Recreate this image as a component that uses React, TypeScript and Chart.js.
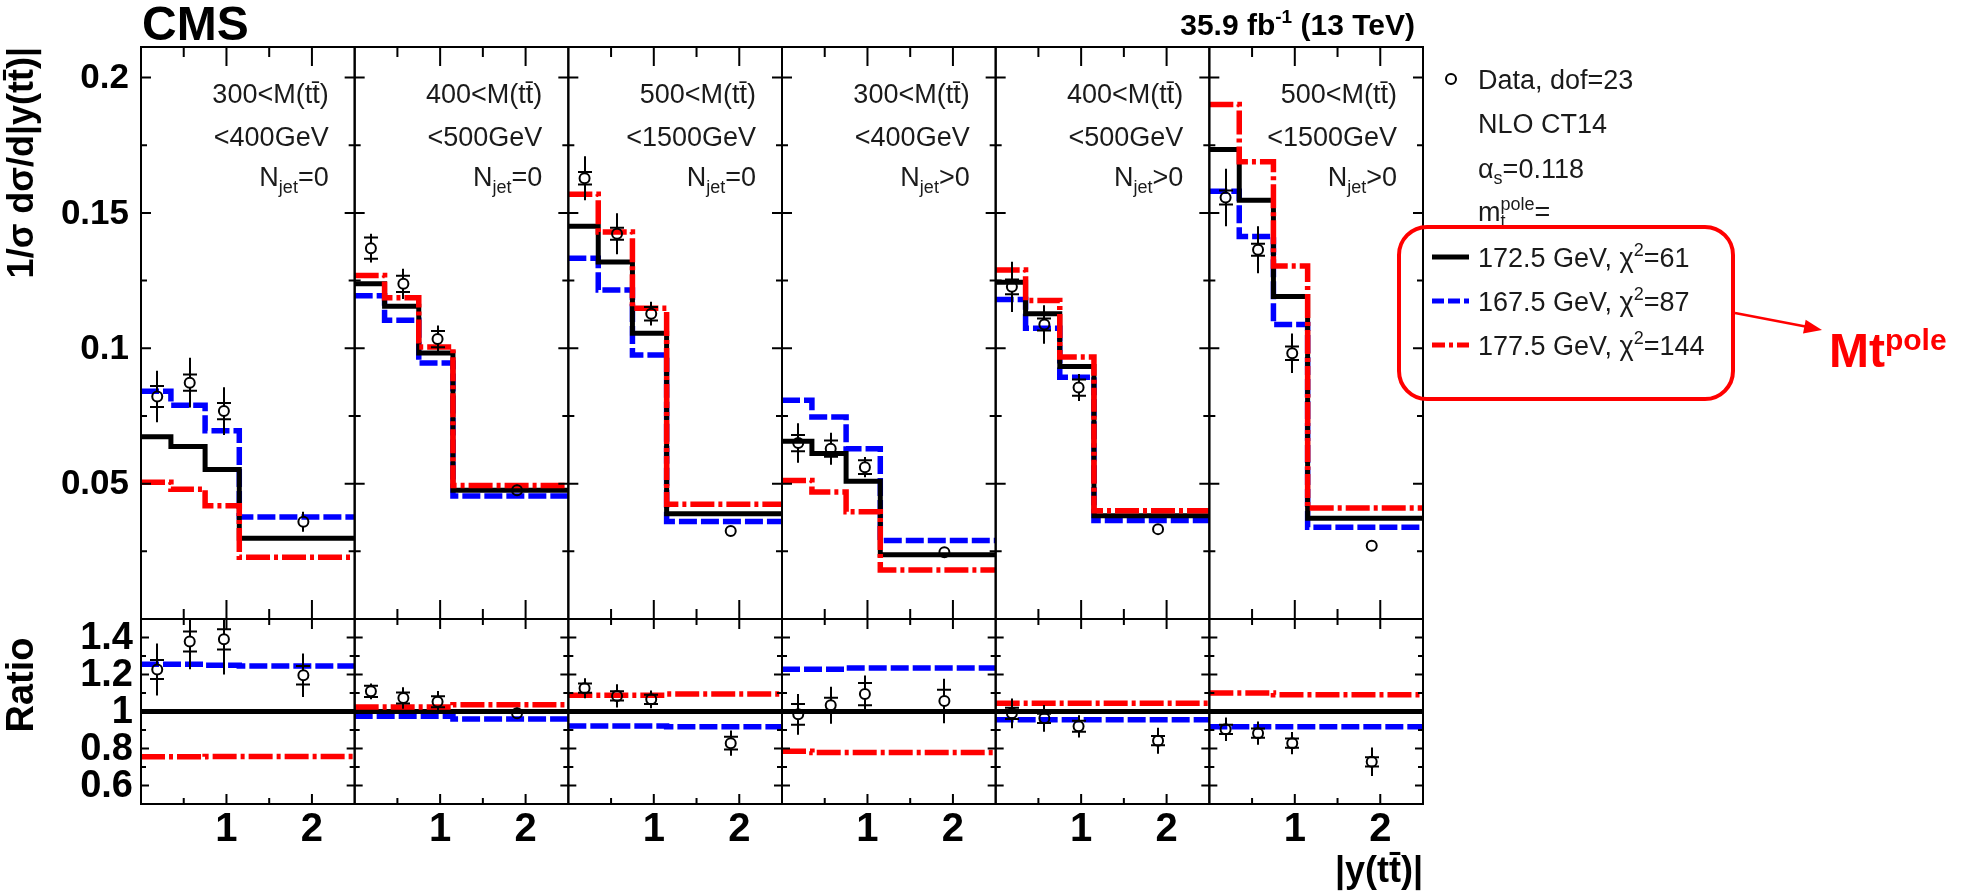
import React, { useEffect, useRef } from "react";
import { Chart, registerables } from "chart.js";

Chart.register(...registerables);

// ---------------- data ----------------
const binEdges = [0, 0.35, 0.75, 1.15, 2.5];
const dataX = [0.19, 0.57, 0.97, 1.9];
const panelSpan = 2.5;

const massLow = ["300", "400", "500", "300", "400", "500"];
const massHigh = ["400", "500", "1500", "400", "500", "1500"];
const njetSign = ["=0", "=0", "=0", ">0", ">0", ">0"];

// 1/sigma dsigma/d|y(tt)| predictions, per panel, per |y| bin
const mt1725Main = [
  [0.0673, 0.0637, 0.0552, 0.0298],
  [0.1238, 0.1155, 0.0983, 0.0476],
  [0.1451, 0.1319, 0.1056, 0.0389],
  [0.0657, 0.0611, 0.0509, 0.0237],
  [0.1244, 0.1128, 0.0933, 0.0381],
  [0.1734, 0.1547, 0.1191, 0.0372],
];
const mt1675Main = [
  [0.0841, 0.079, 0.0695, 0.0377],
  [0.1194, 0.1104, 0.0946, 0.0454],
  [0.1333, 0.1215, 0.0975, 0.036],
  [0.0808, 0.0746, 0.0629, 0.029],
  [0.118, 0.1074, 0.0893, 0.0364],
  [0.158, 0.1413, 0.1088, 0.0339],
];
const mt1775Main = [
  [0.0505, 0.0479, 0.0418, 0.0228],
  [0.1269, 0.1187, 0.1005, 0.0493],
  [0.1569, 0.143, 0.1148, 0.0424],
  [0.0512, 0.0469, 0.0396, 0.0181],
  [0.1289, 0.1177, 0.0968, 0.04],
  [0.1901, 0.1689, 0.1304, 0.041],
];
const dataMain = [
  [0.0822, 0.0873, 0.0768, 0.0359],
  [0.137, 0.1238, 0.1034, 0.0476],
  [0.1628, 0.1423, 0.1128, 0.0325],
  [0.065, 0.0629, 0.0561, 0.0247],
  [0.1227, 0.1088, 0.0855, 0.0332],
  [0.1557, 0.1364, 0.0982, 0.0271],
];
const dataMainTot = [
  [0.0095, 0.0092, 0.0088, 0.0037],
  [0.0053, 0.0056, 0.005, 0.002],
  [0.0081, 0.0076, 0.0044, 0.0015],
  [0.0073, 0.0059, 0.0037, 0.0015],
  [0.0093, 0.0071, 0.005, 0.0015],
  [0.0106, 0.0087, 0.0073, 0.0015],
];
const dataMainStat = [
  [0.0039, 0.003, 0.003, 0.0015],
  [0.0039, 0.003, 0.003, 0.0012],
  [0.0023, 0.0022, 0.0025, 0.001],
  [0.003, 0.003, 0.0025, 0.001],
  [0.0027, 0.0022, 0.003, 0.001],
  [0.0026, 0.0022, 0.0025, 0.001],
];

// ratios to the 172.5 GeV prediction
const mt1725Ratio = [
  [1, 1, 1, 1],
  [1, 1, 1, 1],
  [1, 1, 1, 1],
  [1, 1, 1, 1],
  [1, 1, 1, 1],
  [1, 1, 1, 1],
];
const mt1675Ratio = [
  [1.255, 1.255, 1.25, 1.246],
  [0.974, 0.974, 0.974, 0.96],
  [0.922, 0.922, 0.922, 0.917],
  [1.228, 1.228, 1.235, 1.235],
  [0.955, 0.955, 0.955, 0.955],
  [0.917, 0.917, 0.917, 0.917],
];
const mt1775Ratio = [
  [0.755, 0.755, 0.757, 0.757],
  [1.024, 1.024, 1.024, 1.036],
  [1.088, 1.088, 1.088, 1.094],
  [0.785, 0.778, 0.778, 0.778],
  [1.045, 1.045, 1.045, 1.045],
  [1.1, 1.1, 1.09, 1.09],
];
const dataRatio = [
  [1.227, 1.378, 1.39, 1.196],
  [1.109, 1.073, 1.053, 0.99],
  [1.126, 1.084, 1.066, 0.829],
  [0.985, 1.034, 1.094, 1.057],
  [0.99, 0.963, 0.92, 0.842],
  [0.904, 0.883, 0.829, 0.728],
];
const dataRatioTot = [
  [0.14, 0.15, 0.19, 0.117],
  [0.043, 0.058, 0.058, 0.03],
  [0.054, 0.063, 0.048, 0.068],
  [0.11, 0.1, 0.1, 0.12],
  [0.08, 0.072, 0.06, 0.07],
  [0.063, 0.063, 0.06, 0.077],
];
const dataRatioStat = [
  [0.051, 0.054, 0.055, 0.05],
  [0.03, 0.03, 0.03, 0.02],
  [0.025, 0.025, 0.025, 0.034],
  [0.056, 0.04, 0.06, 0.06],
  [0.03, 0.025, 0.03, 0.025],
  [0.025, 0.025, 0.025, 0.025],
];

const mainTicks = [0.05, 0.1, 0.15, 0.2];
const mainTickLabels = ["0.05", "0.1", "0.15", "0.2"];
const mainMinorStep = 0.025;
const ratioTicks = [0.6, 0.8, 1, 1.2, 1.4];
const ratioTickLabels = ["0.6", "0.8", "1", "1.2", "1.4"];
const ratioMinorStep = 0.1;
const xTicks = [1, 2];
const xTickLabels = ["1", "2"];
const xMinorTicks = [0.5, 1.5];

const legendMasses = ["172.5 GeV, χ", "167.5 GeV, χ", "177.5 GeV, χ"];
const legendChi2 = ["=61", "=87", "=144"];

// ---------------- styling ----------------
const FONT = '"Liberation Sans", Arial, Helvetica, sans-serif';
const BLACK = "#000000";
const BLUE = "#0000ff";
const RED = "#ff0000";
const TEXT = "#1a1a1a";

const seriesStyles = [
  { key: "high", color: RED, width: 5.5, dash: [24, 4, 4, 4], main: mt1775Main, ratio: mt1775Ratio },
  { key: "nom", color: BLACK, width: 5, dash: [] as number[], main: mt1725Main, ratio: mt1725Ratio },
  { key: "low", color: BLUE, width: 5.5, dash: [18, 4], main: mt1675Main, ratio: mt1675Ratio },
];

function stepPoints(vals: number[], offset: number) {
  const pts: { x: number; y: number }[] = [];
  for (let i = 0; i < vals.length; i++) {
    pts.push({ x: offset + binEdges[i], y: vals[i] });
    pts.push({ x: offset + binEdges[i + 1], y: vals[i] });
  }
  return pts;
}

type Run = { t: string; s: number; b?: boolean; dy?: number; stay?: boolean };

function fontOf(r: Run) {
  return `${r.b ? "bold " : ""}${r.s}px ${FONT}`;
}

function drawRuns(ctx: CanvasRenderingContext2D, runs: Run[], x: number, y: number, align: "left" | "right", color: string) {
  const placed: { r: Run; x: number }[] = [];
  let cx = 0;
  let held = 0;
  for (const r of runs) {
    ctx.font = fontOf(r);
    const w = ctx.measureText(r.t).width;
    placed.push({ r, x: cx });
    if (r.stay) held = Math.max(held, w);
    else {
      cx += Math.max(w, held);
      held = 0;
    }
  }
  const x0 = align === "right" ? x - cx : x;
  ctx.fillStyle = color;
  ctx.textAlign = "left";
  ctx.textBaseline = "alphabetic";
  for (const p of placed) {
    ctx.font = fontOf(p.r);
    ctx.fillText(p.r.t, x0 + p.x, y + (p.r.dy || 0));
  }
}

const decorPlugin = {
  id: "cmsDecor",
  afterDatasetsDraw(chart: any) {
    const ctx: CanvasRenderingContext2D = chart.ctx;
    const xs = chart.scales.x;
    const ym = chart.scales.yMain;
    const yr = chart.scales.yRatio;
    const R = 5;

    const drawErrors = (ys: any, vals: number[][], tot: number[][], stat: number[][]) => {
      ctx.save();
      ctx.beginPath();
      ctx.rect(xs.left, ys.top, xs.right - xs.left, ys.bottom - ys.top);
      ctx.clip();
      ctx.strokeStyle = BLACK;
      ctx.lineWidth = 2;
      ctx.setLineDash([]);
      for (let p = 0; p < vals.length; p++) {
        for (let i = 0; i < vals[p].length; i++) {
          const px = Math.round(xs.getPixelForValue(p * panelSpan + dataX[i]));
          const py = ys.getPixelForValue(vals[p][i]);
          const top = ys.getPixelForValue(vals[p][i] + tot[p][i]);
          const bot = ys.getPixelForValue(vals[p][i] - tot[p][i]);
          ctx.beginPath();
          if (py - top > R) {
            ctx.moveTo(px, py - R);
            ctx.lineTo(px, top);
          }
          if (bot - py > R) {
            ctx.moveTo(px, py + R);
            ctx.lineTo(px, bot);
          }
          const sTop = ys.getPixelForValue(vals[p][i] + stat[p][i]);
          const sBot = ys.getPixelForValue(vals[p][i] - stat[p][i]);
          if (py - sTop > R - 0.5) {
            ctx.moveTo(px - 7, sTop);
            ctx.lineTo(px + 7, sTop);
            ctx.moveTo(px - 7, sBot);
            ctx.lineTo(px + 7, sBot);
          }
          ctx.stroke();
        }
      }
      ctx.restore();
    };
    drawErrors(ym, dataMain, dataMainTot, dataMainStat);
    drawErrors(yr, dataRatio, dataRatioTot, dataRatioStat);
  },
  afterDraw(chart: any) {
    const ctx: CanvasRenderingContext2D = chart.ctx;
    const xs = chart.scales.x;
    const ym = chart.scales.yMain;
    const yr = chart.scales.yRatio;
    ctx.save();
    ctx.setLineDash([]);
    ctx.strokeStyle = BLACK;
    ctx.lineWidth = 2;

    const panes = [
      { ys: ym, yMin: 0, yMax: 0.2, step: mainMinorStep, majors: mainTicks, yMaj: 10, yMin2: 6, xMaj: 19, xMin: 10 },
      { ys: yr, yMin: 0.6, yMax: 1.4, step: ratioMinorStep, majors: ratioTicks, yMaj: 8, yMin2: 5, xMaj: 10, xMin: 6 },
    ];
    for (let p = 0; p < 6; p++) {
      const off = p * panelSpan;
      const xl = xs.getPixelForValue(off);
      const xr = xs.getPixelForValue(off + panelSpan);
      for (const pane of panes) {
        const ys = pane.ys;
        ctx.strokeRect(xl, ys.top, xr - xl, ys.bottom - ys.top);
        ctx.beginPath();
        const n = Math.round((pane.yMax - pane.yMin) / pane.step);
        for (let k = 0; k <= n; k++) {
          const v = pane.yMin + k * pane.step;
          const isMajor = pane.majors.some((m) => Math.abs(m - v) < 1e-6);
          const len = isMajor ? pane.yMaj : pane.yMin2;
          const py = ys.getPixelForValue(v);
          ctx.moveTo(xl, py);
          ctx.lineTo(xl + len, py);
          ctx.moveTo(xr, py);
          ctx.lineTo(xr - len, py);
        }
        const allX = [...xTicks.map((v) => ({ v, m: true })), ...xMinorTicks.map((v) => ({ v, m: false }))];
        for (const t of allX) {
          const px = xs.getPixelForValue(off + t.v);
          const len = t.m ? pane.xMaj : pane.xMin;
          ctx.moveTo(px, ys.bottom);
          ctx.lineTo(px, ys.bottom - len);
          ctx.moveTo(px, ys.top);
          ctx.lineTo(px, ys.top + len);
        }
        ctx.stroke();
      }
      // x tick labels
      ctx.fillStyle = BLACK;
      ctx.font = `bold 40px ${FONT}`;
      ctx.textAlign = "center";
      ctx.textBaseline = "middle";
      xTicks.forEach((v, i) => {
        ctx.fillText(xTickLabels[i], xs.getPixelForValue(off + v), 830);
      });
      // panel annotations
      const rx = xr - 26;
      drawRuns(ctx, [{ t: `${massLow[p]}<M(tt\u0304)`, s: 27 }], rx, 103, "right", TEXT);
      drawRuns(ctx, [{ t: `<${massHigh[p]}GeV`, s: 27 }], rx, 146, "right", TEXT);
      drawRuns(
        ctx,
        [
          { t: "N", s: 27 },
          { t: "jet", s: 18, dy: 7 },
          { t: njetSign[p], s: 27 },
        ],
        rx,
        186,
        "right",
        TEXT
      );
    }

    // y tick labels
    ctx.fillStyle = BLACK;
    ctx.textAlign = "right";
    ctx.textBaseline = "middle";
    ctx.font = `bold 35px ${FONT}`;
    mainTicks.forEach((v, i) => ctx.fillText(mainTickLabels[i], 129, ym.getPixelForValue(v) + 1));
    ctx.font = `bold 38px ${FONT}`;
    ratioTicks.forEach((v, i) => ctx.fillText(ratioTickLabels[i], 133, yr.getPixelForValue(v) + 1));

    // axis titles
    ctx.save();
    ctx.translate(23, ym.top);
    ctx.rotate(-Math.PI / 2);
    ctx.textAlign = "right";
    ctx.textBaseline = "middle";
    ctx.font = `bold 36px ${FONT}`;
    ctx.fillText("1/\u03c3 d\u03c3/d|y(tt\u0304)|", 0, 0);
    ctx.restore();

    ctx.save();
    ctx.translate(23, 685);
    ctx.rotate(-Math.PI / 2);
    ctx.textAlign = "center";
    ctx.textBaseline = "middle";
    ctx.font = `bold 38px ${FONT}`;
    ctx.fillText("Ratio", 0, 0);
    ctx.restore();

    ctx.textAlign = "right";
    ctx.textBaseline = "middle";
    ctx.font = `bold 36px ${FONT}`;
    ctx.fillText("|y(tt\u0304)|", xs.right, 872);

    // header
    drawRuns(ctx, [{ t: "CMS", s: 48, b: true }], 142, 40, "left", BLACK);
    drawRuns(
      ctx,
      [
        { t: "35.9 fb", s: 30, b: true },
        { t: "-1", s: 19, b: true, dy: -12 },
        { t: " (13 TeV)", s: 30, b: true },
      ],
      xs.right - 8,
      35,
      "right",
      BLACK
    );

    // legend
    const lx = 1478;
    ctx.beginPath();
    ctx.arc(1451, 79, 5, 0, Math.PI * 2);
    ctx.lineWidth = 2;
    ctx.strokeStyle = BLACK;
    ctx.stroke();
    drawRuns(ctx, [{ t: "Data, dof=23", s: 27 }], lx, 89, "left", TEXT);
    drawRuns(ctx, [{ t: "NLO CT14", s: 27 }], lx, 133, "left", TEXT);
    drawRuns(
      ctx,
      [
        { t: "\u03b1", s: 27 },
        { t: "s", s: 18, dy: 6 },
        { t: "=0.118", s: 27 },
      ],
      lx,
      178,
      "left",
      TEXT
    );
    drawRuns(
      ctx,
      [
        { t: "m", s: 27 },
        { t: "t", s: 18, dy: 6, stay: true },
        { t: "pole", s: 18, dy: -11 },
        { t: "=", s: 27 },
      ],
      lx,
      221,
      "left",
      TEXT
    );
    const legendRows = [
      { y: 257, style: seriesStyles[1], dash: [] as number[] },
      { y: 301, style: seriesStyles[2], dash: [12, 4] },
      { y: 345, style: seriesStyles[0], dash: [13, 4, 4, 4] },
    ];
    legendRows.forEach((row, i) => {
      ctx.save();
      ctx.strokeStyle = row.style.color;
      ctx.lineWidth = 5;
      ctx.setLineDash(row.dash);
      ctx.beginPath();
      ctx.moveTo(1432, row.y);
      ctx.lineTo(1469, row.y);
      ctx.stroke();
      ctx.restore();
      drawRuns(
        ctx,
        [
          { t: legendMasses[i], s: 27 },
          { t: "2", s: 18, dy: -11 },
          { t: legendChi2[i], s: 27 },
        ],
        lx,
        row.y + 10,
        "left",
        TEXT
      );
    });

    // red annotation box, arrow and label
    ctx.save();
    ctx.strokeStyle = RED;
    ctx.lineWidth = 4;
    ctx.setLineDash([]);
    ctx.beginPath();
    (ctx as any).roundRect(1399, 227, 334, 172, 28);
    ctx.stroke();
    ctx.lineWidth = 2.5;
    ctx.beginPath();
    ctx.moveTo(1735, 313);
    ctx.lineTo(1808, 327);
    ctx.stroke();
    const ax = 1822, ay = 330;
    const ang = Math.atan2(ay - 313, ax - 1735);
    ctx.fillStyle = RED;
    ctx.beginPath();
    ctx.moveTo(ax, ay);
    ctx.lineTo(ax - 18 * Math.cos(ang) + 7 * Math.sin(ang), ay - 18 * Math.sin(ang) - 7 * Math.cos(ang));
    ctx.lineTo(ax - 18 * Math.cos(ang) - 7 * Math.sin(ang), ay - 18 * Math.sin(ang) + 7 * Math.cos(ang));
    ctx.closePath();
    ctx.fill();
    ctx.restore();
    drawRuns(
      ctx,
      [
        { t: "Mt", s: 48, b: true },
        { t: "pole", s: 30, b: true, dy: -17 },
      ],
      1829,
      367,
      "left",
      RED
    );

    ctx.restore();
  },
};

export default function App() {
  const ref = useRef<HTMLCanvasElement | null>(null);
  useEffect(() => {
    if (!ref.current) return;
    const datasets: any[] = [];
    for (let p = 0; p < 6; p++) {
      const off = p * panelSpan;
      datasets.push({
        data: dataMain[p].map((v, i) => ({ x: off + dataX[i], y: v })),
        yAxisID: "yMain",
        xAxisID: "x",
        showLine: false,
        pointRadius: 5,
        pointStyle: "circle",
        pointBorderColor: BLACK,
        pointBackgroundColor: "rgba(0,0,0,0)",
        pointBorderWidth: 2,
      });
      datasets.push({
        data: dataRatio[p].map((v, i) => ({ x: off + dataX[i], y: v })),
        yAxisID: "yRatio",
        xAxisID: "x",
        showLine: false,
        pointRadius: 5,
        pointStyle: "circle",
        pointBorderColor: BLACK,
        pointBackgroundColor: "rgba(0,0,0,0)",
        pointBorderWidth: 2,
      });
    }
    for (const s of seriesStyles) {
      for (let p = 0; p < 6; p++) {
        const off = p * panelSpan;
        for (const pane of ["main", "ratio"]) {
          datasets.push({
            data: stepPoints(pane === "main" ? s.main[p] : s.ratio[p], off),
            yAxisID: pane === "main" ? "yMain" : "yRatio",
            xAxisID: "x",
            borderColor: s.color,
            borderWidth: s.width,
            borderDash: s.dash,
            pointRadius: 0,
            fill: false,
            tension: 0,
            borderJoinStyle: "miter",
          });
        }
      }
    }
    const chart = new Chart(ref.current, {
      type: "line",
      data: { datasets },
      options: {
        responsive: false,
        maintainAspectRatio: false,
        devicePixelRatio: 1,
        animation: false,
        events: [],
        layout: { padding: { left: 141, right: 1964 - 1423, top: 47, bottom: 894 - 804 } },
        plugins: { legend: { display: false }, tooltip: { enabled: false } },
        scales: {
          x: { type: "linear", min: 0, max: 6 * panelSpan, display: false },
          yRatio: {
            type: "linear",
            min: 0.5,
            max: 1.5,
            display: false,
            position: "left",
            stack: "panes",
            stackWeight: 185,
          },
          yMain: {
            type: "linear",
            min: 0,
            max: 0.2113,
            display: false,
            position: "left",
            stack: "panes",
            stackWeight: 572,
          },
        },
      },
      plugins: [decorPlugin],
    } as any);
    return () => chart.destroy();
  }, []);
  return (
    <div style={{ position: "absolute", left: 0, top: 0, width: 1964, height: 894, background: "#fff" }}>
      <canvas ref={ref} width={1964} height={894} style={{ display: "block" }} />
    </div>
  );
}
